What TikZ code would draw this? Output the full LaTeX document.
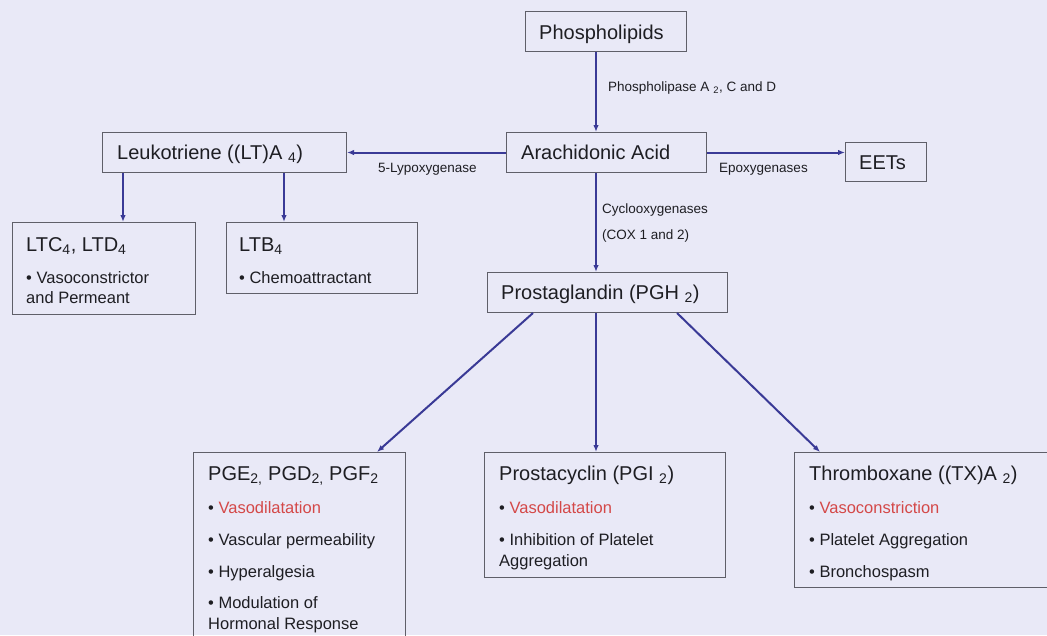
\documentclass[tikz,border=0pt]{standalone}
\usepackage{fontspec}
\setmainfont{Liberation Sans}
\usetikzlibrary{arrows.meta,calc}
\definecolor{paper}{RGB}{233,233,247}
\definecolor{edge}{RGB}{95,95,105}
\definecolor{flow}{RGB}{58,58,150}
\definecolor{ink}{RGB}{30,30,35}
\definecolor{alert}{RGB}{212,72,72}
\begin{document}
\begin{tikzpicture}[x=1pt,y=-1pt,
  box/.style={draw=edge, line width=1pt, anchor=north west, inner sep=0pt},
  title/.style={font=\fontsize{20}{24}\selectfont, text=ink, anchor=base west, inner sep=0pt},
  item/.style={font=\fontsize{16.5}{21}\selectfont, text=ink, anchor=base west, inner sep=0pt},
  enzyme/.style={font=\fontsize{13.5}{16}\selectfont, text=ink, anchor=base west, inner sep=0pt},
  flowarrow/.style={draw=flow, line width=2pt, -{Latex[length=7pt,width=5.5pt]}},
]
\path[use as bounding box] (0,0) rectangle (1047,635);
\clip (0,0) rectangle (1047,635);
\fill[paper] (0,0) rectangle (1047,635);

% boxes
\node[box, minimum width=161pt, minimum height=40pt] (phos) at (525,11) {};
\node[box, minimum width=200pt, minimum height=40pt] (ara)  at (506,132) {};
\node[box, minimum width=81pt,  minimum height=39pt] (eets) at (845,142) {};
\node[box, minimum width=244pt, minimum height=40pt] (leuk) at (102,132) {};
\node[box, minimum width=183pt, minimum height=92pt] (ltc)  at (12,222) {};
\node[box, minimum width=191pt, minimum height=71pt] (ltb)  at (226,222) {};
\node[box, minimum width=240pt, minimum height=40pt] (pgh)  at (487,272) {};
\node[box, minimum width=212pt, minimum height=200pt] (pge) at (193,452) {};
\node[box, minimum width=241pt, minimum height=125pt] (pgi) at (484,452) {};
\node[box, minimum width=270pt, minimum height=135pt] (txa) at (794,452) {};

% box titles
\node[title] (phosT) at (539,39)  {Phospholipids};
\node[title] (araT)  at (521,159) {Arachidonic Acid};
\node[title] (eetsT) at (859,169) {EETs};
\node[title] (leukT) at (117,159) {Leukotriene ((LT)A \textsubscript{4})};
\node[title] (pghT)  at (501,299) {Prostaglandin (PGH \textsubscript{2})};
\node[title] (ltcT)  at (26,251)  {LTC\textsubscript{4}, LTD\textsubscript{4}};
\node[title] (ltbT)  at (239,251) {LTB\textsubscript{4}};
\node[title] (pgeT)  at (208,480) {PGE\textsubscript{2,} PGD\textsubscript{2,} PGF\textsubscript{2}};
\node[title] (pgiT)  at (499,480) {Prostacyclin (PGI \textsubscript{2})};
\node[title] (txaT)  at (809,480) {Thromboxane ((TX)A \textsubscript{2})};

% effects
\node[item] (ltc1) at (26,283) {\textbullet{} Vasoconstrictor};
\node[item] (ltc2) at (26,303) {and Permeant};
\node[item] (ltb1) at (239,283) {\textbullet{} Chemoattractant};

\node[item] (pge1) at (208,513) {\textbullet{} \textcolor{alert}{Vasodilatation}};
\node[item] (pge2) at (208,545) {\textbullet{} Vascular permeability};
\node[item] (pge3) at (208,577) {\textbullet{} Hyperalgesia};
\node[item] (pge4) at (208,608) {\textbullet{} Modulation of};
\node[item] (pge5) at (208,629) {Hormonal Response};

\node[item] (pgi1) at (499,513) {\textbullet{} \textcolor{alert}{Vasodilatation}};
\node[item] (pgi2) at (499,545) {\textbullet{} Inhibition of Platelet};
\node[item] (pgi3) at (499,566) {Aggregation};

\node[item] (txa1) at (809,513) {\textbullet{} \textcolor{alert}{Vasoconstriction}};
\node[item] (txa2) at (809,545) {\textbullet{} Platelet Aggregation};
\node[item] (txa3) at (809,577) {\textbullet{} Bronchospasm};

% enzymes
\node[enzyme] (pla)  at (608,91)  {Phospholipase A \textsubscript{2}, C and D};
\node[enzyme] (lox)  at (378,172) {5-Lypoxygenase};
\node[enzyme] (epox) at (719,172) {Epoxygenases};
\node[enzyme] (cox)  at (602,213) {Cyclooxygenases};
\node[enzyme] (coxn) at (602,239) {(COX 1 and 2)};

% connectors
\coordinate (axis) at (596,0);
\coordinate (ltcx) at (123,0);
\coordinate (ltbx) at (284,0);
\draw[flowarrow] (phos.south -| axis) -- (ara.north -| axis);
\draw[flowarrow] (ara.west) -- (leuk.east);
\draw[flowarrow] (ara.east) -- (ara.east -| eets.west);
\draw[flowarrow] (leuk.south -| ltcx) -- (ltc.north -| ltcx);
\draw[flowarrow] (leuk.south -| ltbx) -- (ltb.north -| ltbx);
\draw[flowarrow] (ara.south -| axis) -- (pgh.north -| axis);
\draw[flowarrow] (pgh.south -| axis) -- (pgi.north -| axis);
\draw[flowarrow] ($(pgh.south west)+(46,0)$) -- ($(pge.north west)+(184,0)$);
\draw[flowarrow] ($(pgh.south west)+(190,0)$) -- ($(txa.north west)+(26,0)$);
\end{tikzpicture}
\end{document}
